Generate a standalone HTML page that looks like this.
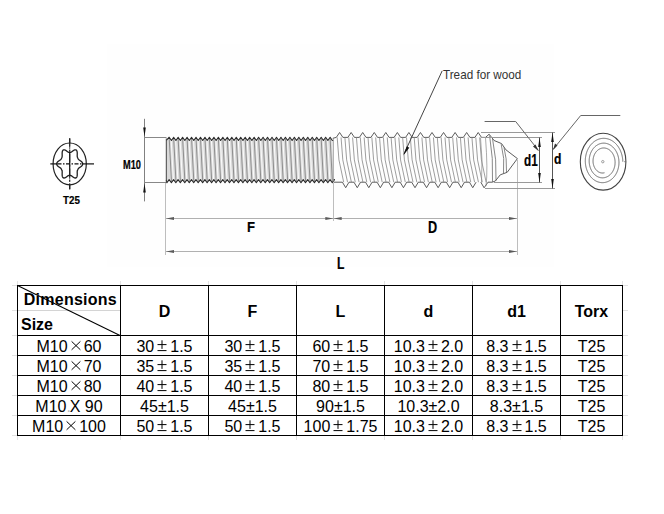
<!DOCTYPE html>
<html><head><meta charset="utf-8"><style>
html,body{margin:0;padding:0;background:#fff;}
body{width:664px;height:514px;position:relative;overflow:hidden;font-family:"Liberation Sans",sans-serif;}
.abs{position:absolute;}
.g{position:absolute;background:#e2e2e2;}
.b{position:absolute;background:#000;}
.c{position:absolute;height:19px;line-height:20px;font-size:16px;text-align:center;white-space:nowrap;color:#000;}
.h{position:absolute;line-height:20px;font-size:16px;font-weight:bold;text-align:center;white-space:nowrap;color:#000;}
.w{display:inline-block;width:16px;height:12px;vertical-align:baseline;position:relative;} .w svg{position:absolute;left:0;top:0;}
.lb{position:absolute;font-weight:bold;line-height:1;white-space:nowrap;transform:scaleX(0.82);transform-origin:0 0;color:#000;-webkit-text-stroke:0.2px #000;}
.tw{position:absolute;font-size:12.4px;line-height:1;white-space:nowrap;transform:scaleX(0.92);transform-origin:0 0;color:#333;}
</style></head><body>
<svg class="abs" width="664" height="514" style="left:0;top:0">
<rect x="107" y="44" width="447" height="223" fill="#fefefe"/>
<ellipse cx="69.7" cy="163.9" rx="16.6" ry="20.9" fill="none" stroke="#222" stroke-width="1.2"/>
<polygon points="69.70,152.38 69.78,152.38 69.86,152.38 69.95,152.38 70.03,152.38 70.11,152.38 70.19,152.38 70.27,152.37 70.36,152.37 70.44,152.36 70.52,152.35 70.61,152.33 70.69,152.31 70.77,152.29 70.86,152.26 70.95,152.23 71.04,152.19 71.13,152.15 71.22,152.11 71.31,152.06 71.40,152.00 71.50,151.94 71.60,151.88 71.70,151.81 71.80,151.74 71.90,151.67 72.01,151.59 72.12,151.51 72.23,151.42 72.34,151.33 72.46,151.24 72.57,151.15 72.69,151.06 72.81,150.97 72.94,150.87 73.06,150.78 73.19,150.69 73.32,150.60 73.45,150.51 73.58,150.42 73.71,150.34 73.84,150.26 73.98,150.19 74.11,150.12 74.25,150.05 74.38,149.99 74.51,149.94 74.65,149.89 74.78,149.86 74.91,149.82 75.04,149.80 75.17,149.78 75.30,149.78 75.42,149.78 75.54,149.79 75.66,149.81 75.78,149.84 75.89,149.88 76.00,149.92 76.10,149.98 76.20,150.04 76.30,150.12 76.39,150.20 76.47,150.29 76.56,150.39 76.64,150.50 76.71,150.62 76.78,150.74 76.84,150.87 76.90,151.01 76.95,151.16 77.00,151.31 77.04,151.46 77.08,151.62 77.12,151.79 77.15,151.96 77.17,152.13 77.19,152.31 77.21,152.48 77.23,152.66 77.24,152.85 77.24,153.03 77.25,153.21 77.25,153.39 77.25,153.58 77.25,153.76 77.25,153.94 77.24,154.11 77.24,154.29 77.23,154.46 77.23,154.63 77.22,154.80 77.22,154.97 77.21,155.13 77.21,155.28 77.21,155.43 77.21,155.58 77.21,155.73 77.21,155.87 77.21,156.00 77.22,156.14 77.23,156.26 77.24,156.39 77.25,156.51 77.27,156.62 77.29,156.73 77.31,156.84 77.33,156.95 77.36,157.05 77.39,157.15 77.42,157.25 77.45,157.34 77.49,157.44 77.52,157.53 77.56,157.62 77.60,157.70 77.64,157.79 77.68,157.88 77.72,157.97 77.76,158.05 77.81,158.14 77.85,158.23 77.89,158.31 77.93,158.40 77.97,158.49 78.01,158.58 78.05,158.66 78.10,158.75 78.14,158.83 78.19,158.92 78.24,159.00 78.29,159.08 78.35,159.16 78.41,159.24 78.47,159.32 78.54,159.40 78.61,159.47 78.68,159.55 78.76,159.62 78.84,159.70 78.92,159.77 79.01,159.84 79.11,159.91 79.20,159.99 79.30,160.06 79.41,160.13 79.52,160.21 79.63,160.28 79.75,160.35 79.86,160.43 79.98,160.51 80.11,160.59 80.23,160.67 80.36,160.75 80.48,160.84 80.61,160.92 80.74,161.01 80.87,161.10 81.00,161.20 81.12,161.29 81.25,161.39 81.37,161.50 81.49,161.60 81.60,161.71 81.72,161.82 81.83,161.94 81.93,162.05 82.03,162.17 82.12,162.29 82.21,162.42 82.29,162.54 82.37,162.67 82.44,162.80 82.50,162.94 82.55,163.07 82.60,163.21 82.63,163.34 82.66,163.48 82.68,163.62 82.70,163.76 82.70,163.90 82.70,164.04 82.68,164.18 82.66,164.32 82.63,164.46 82.60,164.59 82.55,164.73 82.50,164.86 82.44,165.00 82.37,165.13 82.29,165.26 82.21,165.38 82.12,165.51 82.03,165.63 81.93,165.75 81.83,165.86 81.72,165.98 81.60,166.09 81.49,166.20 81.37,166.30 81.25,166.41 81.12,166.51 81.00,166.60 80.87,166.70 80.74,166.79 80.61,166.88 80.48,166.96 80.36,167.05 80.23,167.13 80.11,167.21 79.98,167.29 79.86,167.37 79.75,167.45 79.63,167.52 79.52,167.59 79.41,167.67 79.30,167.74 79.20,167.81 79.11,167.89 79.01,167.96 78.92,168.03 78.84,168.10 78.76,168.18 78.68,168.25 78.61,168.33 78.54,168.40 78.47,168.48 78.41,168.56 78.35,168.64 78.29,168.72 78.24,168.80 78.19,168.88 78.14,168.97 78.10,169.05 78.05,169.14 78.01,169.22 77.97,169.31 77.93,169.40 77.89,169.49 77.85,169.57 77.81,169.66 77.76,169.75 77.72,169.83 77.68,169.92 77.64,170.01 77.60,170.10 77.56,170.18 77.52,170.27 77.49,170.36 77.45,170.46 77.42,170.55 77.39,170.65 77.36,170.75 77.33,170.85 77.31,170.96 77.29,171.07 77.27,171.18 77.25,171.29 77.24,171.41 77.23,171.54 77.22,171.66 77.21,171.80 77.21,171.93 77.21,172.07 77.21,172.22 77.21,172.37 77.21,172.52 77.21,172.67 77.22,172.83 77.22,173.00 77.23,173.17 77.23,173.34 77.24,173.51 77.24,173.69 77.25,173.86 77.25,174.04 77.25,174.22 77.25,174.41 77.25,174.59 77.24,174.77 77.24,174.95 77.23,175.14 77.21,175.32 77.19,175.49 77.17,175.67 77.15,175.84 77.12,176.01 77.08,176.18 77.04,176.34 77.00,176.49 76.95,176.64 76.90,176.79 76.84,176.93 76.78,177.06 76.71,177.18 76.64,177.30 76.56,177.41 76.47,177.51 76.39,177.60 76.30,177.68 76.20,177.76 76.10,177.82 76.00,177.88 75.89,177.92 75.78,177.96 75.66,177.99 75.54,178.01 75.42,178.02 75.30,178.02 75.17,178.02 75.04,178.00 74.91,177.98 74.78,177.94 74.65,177.91 74.51,177.86 74.38,177.81 74.25,177.75 74.11,177.68 73.98,177.61 73.84,177.54 73.71,177.46 73.58,177.38 73.45,177.29 73.32,177.20 73.19,177.11 73.06,177.02 72.94,176.93 72.81,176.83 72.69,176.74 72.57,176.65 72.46,176.56 72.34,176.47 72.23,176.38 72.12,176.29 72.01,176.21 71.90,176.13 71.80,176.06 71.70,175.99 71.60,175.92 71.50,175.86 71.40,175.80 71.31,175.74 71.22,175.69 71.13,175.65 71.04,175.61 70.95,175.57 70.86,175.54 70.77,175.51 70.69,175.49 70.61,175.47 70.52,175.45 70.44,175.44 70.36,175.43 70.27,175.43 70.19,175.42 70.11,175.42 70.03,175.42 69.95,175.42 69.86,175.42 69.78,175.42 69.70,175.42 69.62,175.42 69.54,175.42 69.45,175.42 69.37,175.42 69.29,175.42 69.21,175.42 69.13,175.43 69.04,175.43 68.96,175.44 68.88,175.45 68.79,175.47 68.71,175.49 68.63,175.51 68.54,175.54 68.45,175.57 68.36,175.61 68.27,175.65 68.18,175.69 68.09,175.74 68.00,175.80 67.90,175.86 67.80,175.92 67.70,175.99 67.60,176.06 67.50,176.13 67.39,176.21 67.28,176.29 67.17,176.38 67.06,176.47 66.94,176.56 66.83,176.65 66.71,176.74 66.59,176.83 66.46,176.93 66.34,177.02 66.21,177.11 66.08,177.20 65.95,177.29 65.82,177.38 65.69,177.46 65.56,177.54 65.42,177.61 65.29,177.68 65.15,177.75 65.02,177.81 64.89,177.86 64.75,177.91 64.62,177.94 64.49,177.98 64.36,178.00 64.23,178.02 64.10,178.02 63.98,178.02 63.86,178.01 63.74,177.99 63.62,177.96 63.51,177.92 63.40,177.88 63.30,177.82 63.20,177.76 63.10,177.68 63.01,177.60 62.93,177.51 62.84,177.41 62.76,177.30 62.69,177.18 62.62,177.06 62.56,176.93 62.50,176.79 62.45,176.64 62.40,176.49 62.36,176.34 62.32,176.18 62.28,176.01 62.25,175.84 62.23,175.67 62.21,175.49 62.19,175.32 62.17,175.14 62.16,174.95 62.16,174.77 62.15,174.59 62.15,174.41 62.15,174.22 62.15,174.04 62.15,173.86 62.16,173.69 62.16,173.51 62.17,173.34 62.17,173.17 62.18,173.00 62.18,172.83 62.19,172.67 62.19,172.52 62.19,172.37 62.19,172.22 62.19,172.07 62.19,171.93 62.19,171.80 62.18,171.66 62.17,171.54 62.16,171.41 62.15,171.29 62.13,171.18 62.11,171.07 62.09,170.96 62.07,170.85 62.04,170.75 62.01,170.65 61.98,170.55 61.95,170.46 61.91,170.36 61.88,170.27 61.84,170.18 61.80,170.10 61.76,170.01 61.72,169.92 61.68,169.83 61.64,169.75 61.59,169.66 61.55,169.57 61.51,169.49 61.47,169.40 61.43,169.31 61.39,169.22 61.35,169.14 61.30,169.05 61.26,168.97 61.21,168.88 61.16,168.80 61.11,168.72 61.05,168.64 60.99,168.56 60.93,168.48 60.86,168.40 60.79,168.33 60.72,168.25 60.64,168.18 60.56,168.10 60.48,168.03 60.39,167.96 60.29,167.89 60.20,167.81 60.10,167.74 59.99,167.67 59.88,167.59 59.77,167.52 59.65,167.45 59.54,167.37 59.42,167.29 59.29,167.21 59.17,167.13 59.04,167.05 58.92,166.96 58.79,166.88 58.66,166.79 58.53,166.70 58.40,166.60 58.28,166.51 58.15,166.41 58.03,166.30 57.91,166.20 57.80,166.09 57.68,165.98 57.57,165.86 57.47,165.75 57.37,165.63 57.28,165.51 57.19,165.38 57.11,165.26 57.03,165.13 56.96,165.00 56.90,164.86 56.85,164.73 56.80,164.59 56.77,164.46 56.74,164.32 56.72,164.18 56.70,164.04 56.70,163.90 56.70,163.76 56.72,163.62 56.74,163.48 56.77,163.34 56.80,163.21 56.85,163.07 56.90,162.94 56.96,162.80 57.03,162.67 57.11,162.54 57.19,162.42 57.28,162.29 57.37,162.17 57.47,162.05 57.57,161.94 57.68,161.82 57.80,161.71 57.91,161.60 58.03,161.50 58.15,161.39 58.28,161.29 58.40,161.20 58.53,161.10 58.66,161.01 58.79,160.92 58.92,160.84 59.04,160.75 59.17,160.67 59.29,160.59 59.42,160.51 59.54,160.43 59.65,160.35 59.77,160.28 59.88,160.21 59.99,160.13 60.10,160.06 60.20,159.99 60.29,159.91 60.39,159.84 60.48,159.77 60.56,159.70 60.64,159.62 60.72,159.55 60.79,159.47 60.86,159.40 60.93,159.32 60.99,159.24 61.05,159.16 61.11,159.08 61.16,159.00 61.21,158.92 61.26,158.83 61.30,158.75 61.35,158.66 61.39,158.58 61.43,158.49 61.47,158.40 61.51,158.31 61.55,158.23 61.59,158.14 61.64,158.05 61.68,157.97 61.72,157.88 61.76,157.79 61.80,157.70 61.84,157.62 61.88,157.53 61.91,157.44 61.95,157.34 61.98,157.25 62.01,157.15 62.04,157.05 62.07,156.95 62.09,156.84 62.11,156.73 62.13,156.62 62.15,156.51 62.16,156.39 62.17,156.26 62.18,156.14 62.19,156.00 62.19,155.87 62.19,155.73 62.19,155.58 62.19,155.43 62.19,155.28 62.19,155.13 62.18,154.97 62.18,154.80 62.17,154.63 62.17,154.46 62.16,154.29 62.16,154.11 62.15,153.94 62.15,153.76 62.15,153.58 62.15,153.39 62.15,153.21 62.16,153.03 62.16,152.85 62.17,152.66 62.19,152.48 62.21,152.31 62.23,152.13 62.25,151.96 62.28,151.79 62.32,151.62 62.36,151.46 62.40,151.31 62.45,151.16 62.50,151.01 62.56,150.87 62.62,150.74 62.69,150.62 62.76,150.50 62.84,150.39 62.93,150.29 63.01,150.20 63.10,150.12 63.20,150.04 63.30,149.98 63.40,149.92 63.51,149.88 63.62,149.84 63.74,149.81 63.86,149.79 63.98,149.78 64.10,149.78 64.23,149.78 64.36,149.80 64.49,149.82 64.62,149.86 64.75,149.89 64.89,149.94 65.02,149.99 65.15,150.05 65.29,150.12 65.42,150.19 65.56,150.26 65.69,150.34 65.82,150.42 65.95,150.51 66.08,150.60 66.21,150.69 66.34,150.78 66.46,150.87 66.59,150.97 66.71,151.06 66.83,151.15 66.94,151.24 67.06,151.33 67.17,151.42 67.28,151.51 67.39,151.59 67.50,151.67 67.60,151.74 67.70,151.81 67.80,151.88 67.90,151.94 68.00,152.00 68.09,152.06 68.18,152.11 68.27,152.15 68.36,152.19 68.45,152.23 68.54,152.26 68.63,152.29 68.71,152.31 68.79,152.33 68.88,152.35 68.96,152.36 69.04,152.37 69.13,152.37 69.21,152.38 69.29,152.38 69.37,152.38 69.45,152.38 69.54,152.38 69.62,152.38 69.70,152.38" fill="none" stroke="#222" stroke-width="1.3"/>
<line x1="50.3" y1="163.9" x2="57.5" y2="163.9" stroke="#111" stroke-width="1.2"/>
<line x1="82" y1="163.9" x2="94" y2="163.9" stroke="#111" stroke-width="1.2"/>
<line x1="57.5" y1="163.9" x2="82" y2="163.9" stroke="#111" stroke-width="1.1" stroke-dasharray="4,1.5,1.5,1.5"/>
<line x1="69.7" y1="138.3" x2="69.7" y2="143" stroke="#111" stroke-width="1.2"/>
<line x1="69.7" y1="185" x2="69.7" y2="189.5" stroke="#111" stroke-width="1.2"/>
<line x1="69.7" y1="143" x2="69.7" y2="152" stroke="#444" stroke-width="0.9" stroke-dasharray="3,1.5,1.5,1.5"/>
<line x1="69.7" y1="176" x2="69.7" y2="185" stroke="#444" stroke-width="0.9" stroke-dasharray="3,1.5,1.5,1.5"/>
<line x1="69.7" y1="152" x2="69.7" y2="176" stroke="#111" stroke-width="1.2"/>
<line x1="69.7" y1="138.5" x2="69.7" y2="189" stroke="#222" stroke-width="1.1" stroke-dasharray="9,2,2,2"/>
<line x1="144.5" y1="118.8" x2="144.5" y2="201.4" stroke="#808080" stroke-width="1"/>
<line x1="144.5" y1="137.5" x2="166.5" y2="137.5" stroke="#888" stroke-width="1"/>
<line x1="144.5" y1="182.5" x2="166.5" y2="182.5" stroke="#888" stroke-width="1"/>
<polygon points="144.5,136.8 143.2,127.5 145.8,127.5" fill="#111"/>
<polygon points="144.5,183.2 143.2,192.5 145.8,192.5" fill="#111"/>
<polygon points="166.30,140.40 169.20,137.20 171.44,140.50 173.67,137.20 175.91,140.50 178.14,137.20 180.38,140.50 182.61,137.20 184.84,140.50 187.08,137.20 189.31,140.50 191.55,137.20 193.78,140.50 196.02,137.20 198.25,140.50 200.49,137.20 202.72,140.50 204.96,137.20 207.19,140.50 209.43,137.20 211.66,140.50 213.90,137.20 216.13,140.50 218.37,137.20 220.60,140.50 222.84,137.20 225.07,140.50 227.31,137.20 229.55,140.50 231.78,137.20 234.01,140.50 236.25,137.20 238.49,140.50 240.72,137.20 242.95,140.50 245.19,137.20 247.43,140.50 249.66,137.20 251.89,140.50 254.13,137.20 256.37,140.50 258.60,137.20 260.83,140.50 263.07,137.20 265.31,140.50 267.54,137.20 269.77,140.50 272.01,137.20 274.25,140.50 276.48,137.20 278.72,140.50 280.95,137.20 283.19,140.50 285.42,137.20 287.65,140.50 289.89,137.20 292.12,140.50 294.36,137.20 296.60,140.50 298.83,137.20 301.06,140.50 303.30,137.20 305.53,140.50 307.77,137.20 310.00,140.50 312.24,137.20 314.48,140.50 316.71,137.20 318.94,140.50 321.18,137.20 323.41,140.50 325.65,137.20 327.88,140.50 330.12,137.20 332.36,140.50 333.30,140.40 333.30,179.80 334.52,179.60 332.29,182.80 330.06,179.60 327.82,182.80 325.59,179.60 323.35,182.80 321.12,179.60 318.88,182.80 316.64,179.60 314.41,182.80 312.18,179.60 309.94,182.80 307.71,179.60 305.47,182.80 303.24,179.60 301.00,182.80 298.76,179.60 296.53,182.80 294.30,179.60 292.06,182.80 289.83,179.60 287.59,182.80 285.36,179.60 283.12,182.80 280.88,179.60 278.65,182.80 276.42,179.60 274.18,182.80 271.94,179.60 269.71,182.80 267.48,179.60 265.24,182.80 263.00,179.60 260.77,182.80 258.54,179.60 256.30,182.80 254.06,179.60 251.83,182.80 249.60,179.60 247.36,182.80 245.12,179.60 242.89,182.80 240.66,179.60 238.42,182.80 236.19,179.60 233.95,182.80 231.72,179.60 229.48,182.80 227.25,179.60 225.01,182.80 222.78,179.60 220.54,182.80 218.31,179.60 216.07,182.80 213.84,179.60 211.60,182.80 209.37,179.60 207.13,182.80 204.90,179.60 202.66,182.80 200.43,179.60 198.19,182.80 195.96,179.60 193.72,182.80 191.49,179.60 189.25,182.80 187.02,179.60 184.78,182.80 182.55,179.60 180.31,182.80 178.08,179.60 175.84,182.80 173.61,179.60 171.37,182.80 169.14,179.60 166.90,182.80 166.30,179.80" fill="#d9d9d9"/>
<line x1="169.20" y1="138.2" x2="171.50" y2="182" stroke="#808080" stroke-width="0.85"/>
<line x1="171.20" y1="140.6" x2="173.40" y2="179.6" stroke="#fbfbfb" stroke-width="1.0"/>
<line x1="173.67" y1="138.2" x2="175.97" y2="182" stroke="#808080" stroke-width="0.85"/>
<line x1="175.67" y1="140.6" x2="177.87" y2="179.6" stroke="#fbfbfb" stroke-width="1.0"/>
<line x1="178.14" y1="138.2" x2="180.44" y2="182" stroke="#808080" stroke-width="0.85"/>
<line x1="180.14" y1="140.6" x2="182.34" y2="179.6" stroke="#fbfbfb" stroke-width="1.0"/>
<line x1="182.61" y1="138.2" x2="184.91" y2="182" stroke="#808080" stroke-width="0.85"/>
<line x1="184.61" y1="140.6" x2="186.81" y2="179.6" stroke="#fbfbfb" stroke-width="1.0"/>
<line x1="187.08" y1="138.2" x2="189.38" y2="182" stroke="#808080" stroke-width="0.85"/>
<line x1="189.08" y1="140.6" x2="191.28" y2="179.6" stroke="#fbfbfb" stroke-width="1.0"/>
<line x1="191.55" y1="138.2" x2="193.85" y2="182" stroke="#808080" stroke-width="0.85"/>
<line x1="193.55" y1="140.6" x2="195.75" y2="179.6" stroke="#fbfbfb" stroke-width="1.0"/>
<line x1="196.02" y1="138.2" x2="198.32" y2="182" stroke="#808080" stroke-width="0.85"/>
<line x1="198.02" y1="140.6" x2="200.22" y2="179.6" stroke="#fbfbfb" stroke-width="1.0"/>
<line x1="200.49" y1="138.2" x2="202.79" y2="182" stroke="#808080" stroke-width="0.85"/>
<line x1="202.49" y1="140.6" x2="204.69" y2="179.6" stroke="#fbfbfb" stroke-width="1.0"/>
<line x1="204.96" y1="138.2" x2="207.26" y2="182" stroke="#808080" stroke-width="0.85"/>
<line x1="206.96" y1="140.6" x2="209.16" y2="179.6" stroke="#fbfbfb" stroke-width="1.0"/>
<line x1="209.43" y1="138.2" x2="211.73" y2="182" stroke="#808080" stroke-width="0.85"/>
<line x1="211.43" y1="140.6" x2="213.63" y2="179.6" stroke="#fbfbfb" stroke-width="1.0"/>
<line x1="213.90" y1="138.2" x2="216.20" y2="182" stroke="#808080" stroke-width="0.85"/>
<line x1="215.90" y1="140.6" x2="218.10" y2="179.6" stroke="#fbfbfb" stroke-width="1.0"/>
<line x1="218.37" y1="138.2" x2="220.67" y2="182" stroke="#808080" stroke-width="0.85"/>
<line x1="220.37" y1="140.6" x2="222.57" y2="179.6" stroke="#fbfbfb" stroke-width="1.0"/>
<line x1="222.84" y1="138.2" x2="225.14" y2="182" stroke="#808080" stroke-width="0.85"/>
<line x1="224.84" y1="140.6" x2="227.04" y2="179.6" stroke="#fbfbfb" stroke-width="1.0"/>
<line x1="227.31" y1="138.2" x2="229.61" y2="182" stroke="#808080" stroke-width="0.85"/>
<line x1="229.31" y1="140.6" x2="231.51" y2="179.6" stroke="#fbfbfb" stroke-width="1.0"/>
<line x1="231.78" y1="138.2" x2="234.08" y2="182" stroke="#808080" stroke-width="0.85"/>
<line x1="233.78" y1="140.6" x2="235.98" y2="179.6" stroke="#fbfbfb" stroke-width="1.0"/>
<line x1="236.25" y1="138.2" x2="238.55" y2="182" stroke="#808080" stroke-width="0.85"/>
<line x1="238.25" y1="140.6" x2="240.45" y2="179.6" stroke="#fbfbfb" stroke-width="1.0"/>
<line x1="240.72" y1="138.2" x2="243.02" y2="182" stroke="#808080" stroke-width="0.85"/>
<line x1="242.72" y1="140.6" x2="244.92" y2="179.6" stroke="#fbfbfb" stroke-width="1.0"/>
<line x1="245.19" y1="138.2" x2="247.49" y2="182" stroke="#808080" stroke-width="0.85"/>
<line x1="247.19" y1="140.6" x2="249.39" y2="179.6" stroke="#fbfbfb" stroke-width="1.0"/>
<line x1="249.66" y1="138.2" x2="251.96" y2="182" stroke="#808080" stroke-width="0.85"/>
<line x1="251.66" y1="140.6" x2="253.86" y2="179.6" stroke="#fbfbfb" stroke-width="1.0"/>
<line x1="254.13" y1="138.2" x2="256.43" y2="182" stroke="#808080" stroke-width="0.85"/>
<line x1="256.13" y1="140.6" x2="258.33" y2="179.6" stroke="#fbfbfb" stroke-width="1.0"/>
<line x1="258.60" y1="138.2" x2="260.90" y2="182" stroke="#808080" stroke-width="0.85"/>
<line x1="260.60" y1="140.6" x2="262.80" y2="179.6" stroke="#fbfbfb" stroke-width="1.0"/>
<line x1="263.07" y1="138.2" x2="265.37" y2="182" stroke="#808080" stroke-width="0.85"/>
<line x1="265.07" y1="140.6" x2="267.27" y2="179.6" stroke="#fbfbfb" stroke-width="1.0"/>
<line x1="267.54" y1="138.2" x2="269.84" y2="182" stroke="#808080" stroke-width="0.85"/>
<line x1="269.54" y1="140.6" x2="271.74" y2="179.6" stroke="#fbfbfb" stroke-width="1.0"/>
<line x1="272.01" y1="138.2" x2="274.31" y2="182" stroke="#808080" stroke-width="0.85"/>
<line x1="274.01" y1="140.6" x2="276.21" y2="179.6" stroke="#fbfbfb" stroke-width="1.0"/>
<line x1="276.48" y1="138.2" x2="278.78" y2="182" stroke="#808080" stroke-width="0.85"/>
<line x1="278.48" y1="140.6" x2="280.68" y2="179.6" stroke="#fbfbfb" stroke-width="1.0"/>
<line x1="280.95" y1="138.2" x2="283.25" y2="182" stroke="#808080" stroke-width="0.85"/>
<line x1="282.95" y1="140.6" x2="285.15" y2="179.6" stroke="#fbfbfb" stroke-width="1.0"/>
<line x1="285.42" y1="138.2" x2="287.72" y2="182" stroke="#808080" stroke-width="0.85"/>
<line x1="287.42" y1="140.6" x2="289.62" y2="179.6" stroke="#fbfbfb" stroke-width="1.0"/>
<line x1="289.89" y1="138.2" x2="292.19" y2="182" stroke="#808080" stroke-width="0.85"/>
<line x1="291.89" y1="140.6" x2="294.09" y2="179.6" stroke="#fbfbfb" stroke-width="1.0"/>
<line x1="294.36" y1="138.2" x2="296.66" y2="182" stroke="#808080" stroke-width="0.85"/>
<line x1="296.36" y1="140.6" x2="298.56" y2="179.6" stroke="#fbfbfb" stroke-width="1.0"/>
<line x1="298.83" y1="138.2" x2="301.13" y2="182" stroke="#808080" stroke-width="0.85"/>
<line x1="300.83" y1="140.6" x2="303.03" y2="179.6" stroke="#fbfbfb" stroke-width="1.0"/>
<line x1="303.30" y1="138.2" x2="305.60" y2="182" stroke="#808080" stroke-width="0.85"/>
<line x1="305.30" y1="140.6" x2="307.50" y2="179.6" stroke="#fbfbfb" stroke-width="1.0"/>
<line x1="307.77" y1="138.2" x2="310.07" y2="182" stroke="#808080" stroke-width="0.85"/>
<line x1="309.77" y1="140.6" x2="311.97" y2="179.6" stroke="#fbfbfb" stroke-width="1.0"/>
<line x1="312.24" y1="138.2" x2="314.54" y2="182" stroke="#808080" stroke-width="0.85"/>
<line x1="314.24" y1="140.6" x2="316.44" y2="179.6" stroke="#fbfbfb" stroke-width="1.0"/>
<line x1="316.71" y1="138.2" x2="319.01" y2="182" stroke="#808080" stroke-width="0.85"/>
<line x1="318.71" y1="140.6" x2="320.91" y2="179.6" stroke="#fbfbfb" stroke-width="1.0"/>
<line x1="321.18" y1="138.2" x2="323.48" y2="182" stroke="#808080" stroke-width="0.85"/>
<line x1="323.18" y1="140.6" x2="325.38" y2="179.6" stroke="#fbfbfb" stroke-width="1.0"/>
<line x1="325.65" y1="138.2" x2="327.95" y2="182" stroke="#808080" stroke-width="0.85"/>
<line x1="327.65" y1="140.6" x2="329.85" y2="179.6" stroke="#fbfbfb" stroke-width="1.0"/>
<line x1="330.12" y1="138.2" x2="332.42" y2="182" stroke="#808080" stroke-width="0.85"/>
<line x1="332.12" y1="140.6" x2="334.32" y2="179.6" stroke="#fbfbfb" stroke-width="1.0"/>
<polyline points="166.30,140.40 169.20,137.20 171.44,140.50 173.67,137.20 175.91,140.50 178.14,137.20 180.38,140.50 182.61,137.20 184.84,140.50 187.08,137.20 189.31,140.50 191.55,137.20 193.78,140.50 196.02,137.20 198.25,140.50 200.49,137.20 202.72,140.50 204.96,137.20 207.19,140.50 209.43,137.20 211.66,140.50 213.90,137.20 216.13,140.50 218.37,137.20 220.60,140.50 222.84,137.20 225.07,140.50 227.31,137.20 229.55,140.50 231.78,137.20 234.01,140.50 236.25,137.20 238.49,140.50 240.72,137.20 242.95,140.50 245.19,137.20 247.43,140.50 249.66,137.20 251.89,140.50 254.13,137.20 256.37,140.50 258.60,137.20 260.83,140.50 263.07,137.20 265.31,140.50 267.54,137.20 269.77,140.50 272.01,137.20 274.25,140.50 276.48,137.20 278.72,140.50 280.95,137.20 283.19,140.50 285.42,137.20 287.65,140.50 289.89,137.20 292.12,140.50 294.36,137.20 296.60,140.50 298.83,137.20 301.06,140.50 303.30,137.20 305.53,140.50 307.77,137.20 310.00,140.50 312.24,137.20 314.48,140.50 316.71,137.20 318.94,140.50 321.18,137.20 323.41,140.50 325.65,137.20 327.88,140.50 330.12,137.20 332.36,140.50 333.30,140.40" fill="none" stroke="#2a2a2a" stroke-width="1.05" stroke-linejoin="round"/>
<polyline points="166.30,179.80 166.90,182.80 169.14,179.60 171.37,182.80 173.61,179.60 175.84,182.80 178.08,179.60 180.31,182.80 182.55,179.60 184.78,182.80 187.02,179.60 189.25,182.80 191.49,179.60 193.72,182.80 195.96,179.60 198.19,182.80 200.43,179.60 202.66,182.80 204.90,179.60 207.13,182.80 209.37,179.60 211.60,182.80 213.84,179.60 216.07,182.80 218.31,179.60 220.54,182.80 222.78,179.60 225.01,182.80 227.25,179.60 229.48,182.80 231.72,179.60 233.95,182.80 236.19,179.60 238.42,182.80 240.66,179.60 242.89,182.80 245.12,179.60 247.36,182.80 249.60,179.60 251.83,182.80 254.06,179.60 256.30,182.80 258.54,179.60 260.77,182.80 263.00,179.60 265.24,182.80 267.48,179.60 269.71,182.80 271.94,179.60 274.18,182.80 276.42,179.60 278.65,182.80 280.88,179.60 283.12,182.80 285.36,179.60 287.59,182.80 289.83,179.60 292.06,182.80 294.30,179.60 296.53,182.80 298.76,179.60 301.00,182.80 303.24,179.60 305.47,182.80 307.71,179.60 309.94,182.80 312.18,179.60 314.41,182.80 316.64,179.60 318.88,182.80 321.12,179.60 323.35,182.80 325.59,179.60 327.82,182.80 330.06,179.60 332.29,182.80 334.52,179.60 333.30,179.80" fill="none" stroke="#2a2a2a" stroke-width="1.05" stroke-linejoin="round"/>
<line x1="166.3" y1="138.5" x2="166.3" y2="182.5" stroke="#444" stroke-width="1"/>
<line x1="333.3" y1="138.5" x2="333.3" y2="181.5" stroke="#999" stroke-width="0.9"/>
<path d="M332.8,138.3 L336.30,137.4 L339.60,132.5 L342.90,137.4 L347.85,137.4 L351.15,132.5 L354.45,137.4 L359.40,137.4 L362.70,132.5 L366.00,137.4 L370.95,137.4 L374.25,132.5 L377.55,137.4 L382.50,137.4 L385.80,132.5 L389.10,137.4 L394.05,137.4 L397.35,132.5 L400.65,137.4 L405.60,137.4 L408.90,132.5 L412.20,137.4 L417.15,137.4 L420.45,132.5 L423.75,137.4 L428.70,137.4 L432.00,132.5 L435.30,137.4 L440.25,137.4 L443.55,132.5 L446.85,137.4 L451.80,137.4 L455.10,132.5 L458.40,137.4 L463.35,137.4 L466.65,132.5 L469.95,137.4 L474.90,137.4 L478.20,132.5 L481.50,137.4 L485.5,137.4 L489.1,134.2 L494.1,140.5 L501.6,143.6 L505.9,149.8 L517.4,158.6 L507.2,172.3 L500.3,174.8 L495.3,181 L492.2,182.2 L488,182.2 L484.1,187.8 L480.8,182.2" fill="none" stroke="#4a4a4a" stroke-width="0.9" stroke-linejoin="round"/>
<path d="M333.8,182.2 L342.40,182.2 L345.70,187.7 L349.00,182.2 L353.95,182.2 L357.25,187.7 L360.55,182.2 L365.50,182.2 L368.80,187.7 L372.10,182.2 L377.05,182.2 L380.35,187.7 L383.65,182.2 L388.60,182.2 L391.90,187.7 L395.20,182.2 L400.15,182.2 L403.45,187.7 L406.75,182.2 L411.70,182.2 L415.00,187.7 L418.30,182.2 L423.25,182.2 L426.55,187.7 L429.85,182.2 L434.80,182.2 L438.10,187.7 L441.40,182.2 L446.35,182.2 L449.65,187.7 L452.95,182.2 L457.90,182.2 L461.20,187.7 L464.50,182.2 L469.45,182.2 L472.75,187.7 L476.05,182.2 " fill="none" stroke="#4a4a4a" stroke-width="0.9" stroke-linejoin="round"/>
<path d="M337.20,137.4 Q337.45,160 343.70,182.2" fill="none" stroke="#858585" stroke-width="0.8"/>
<path d="M341.05,137.4 Q341.30,160 347.55,182.2" fill="none" stroke="#858585" stroke-width="0.8"/>
<path d="M344.90,137.4 Q345.15,160 351.40,182.2" fill="none" stroke="#858585" stroke-width="0.8"/>
<path d="M348.75,137.4 Q349.00,160 355.25,182.2" fill="none" stroke="#858585" stroke-width="0.8"/>
<path d="M352.60,137.4 Q352.85,160 359.10,182.2" fill="none" stroke="#858585" stroke-width="0.8"/>
<path d="M356.45,137.4 Q356.70,160 362.95,182.2" fill="none" stroke="#858585" stroke-width="0.8"/>
<path d="M360.30,137.4 Q360.55,160 366.80,182.2" fill="none" stroke="#858585" stroke-width="0.8"/>
<path d="M364.15,137.4 Q364.40,160 370.65,182.2" fill="none" stroke="#858585" stroke-width="0.8"/>
<path d="M368.00,137.4 Q368.25,160 374.50,182.2" fill="none" stroke="#858585" stroke-width="0.8"/>
<path d="M371.85,137.4 Q372.10,160 378.35,182.2" fill="none" stroke="#858585" stroke-width="0.8"/>
<path d="M375.70,137.4 Q375.95,160 382.20,182.2" fill="none" stroke="#858585" stroke-width="0.8"/>
<path d="M379.55,137.4 Q379.80,160 386.05,182.2" fill="none" stroke="#858585" stroke-width="0.8"/>
<path d="M383.40,137.4 Q383.65,160 389.90,182.2" fill="none" stroke="#858585" stroke-width="0.8"/>
<path d="M387.25,137.4 Q387.50,160 393.75,182.2" fill="none" stroke="#858585" stroke-width="0.8"/>
<path d="M391.10,137.4 Q391.35,160 397.60,182.2" fill="none" stroke="#858585" stroke-width="0.8"/>
<path d="M394.95,137.4 Q395.20,160 401.45,182.2" fill="none" stroke="#858585" stroke-width="0.8"/>
<path d="M398.80,137.4 Q399.05,160 405.30,182.2" fill="none" stroke="#858585" stroke-width="0.8"/>
<path d="M402.65,137.4 Q402.90,160 409.15,182.2" fill="none" stroke="#858585" stroke-width="0.8"/>
<path d="M406.50,137.4 Q406.75,160 413.00,182.2" fill="none" stroke="#858585" stroke-width="0.8"/>
<path d="M410.35,137.4 Q410.60,160 416.85,182.2" fill="none" stroke="#858585" stroke-width="0.8"/>
<path d="M414.20,137.4 Q414.45,160 420.70,182.2" fill="none" stroke="#858585" stroke-width="0.8"/>
<path d="M418.05,137.4 Q418.30,160 424.55,182.2" fill="none" stroke="#858585" stroke-width="0.8"/>
<path d="M421.90,137.4 Q422.15,160 428.40,182.2" fill="none" stroke="#858585" stroke-width="0.8"/>
<path d="M425.75,137.4 Q426.00,160 432.25,182.2" fill="none" stroke="#858585" stroke-width="0.8"/>
<path d="M429.60,137.4 Q429.85,160 436.10,182.2" fill="none" stroke="#858585" stroke-width="0.8"/>
<path d="M433.45,137.4 Q433.70,160 439.95,182.2" fill="none" stroke="#858585" stroke-width="0.8"/>
<path d="M437.30,137.4 Q437.55,160 443.80,182.2" fill="none" stroke="#858585" stroke-width="0.8"/>
<path d="M441.15,137.4 Q441.40,160 447.65,182.2" fill="none" stroke="#858585" stroke-width="0.8"/>
<path d="M445.00,137.4 Q445.25,160 451.50,182.2" fill="none" stroke="#858585" stroke-width="0.8"/>
<path d="M448.85,137.4 Q449.10,160 455.35,182.2" fill="none" stroke="#858585" stroke-width="0.8"/>
<path d="M452.70,137.4 Q452.95,160 459.20,182.2" fill="none" stroke="#858585" stroke-width="0.8"/>
<path d="M456.55,137.4 Q456.80,160 463.05,182.2" fill="none" stroke="#858585" stroke-width="0.8"/>
<path d="M460.40,137.4 Q460.65,160 466.90,182.2" fill="none" stroke="#858585" stroke-width="0.8"/>
<path d="M464.25,137.4 Q464.50,160 470.75,182.2" fill="none" stroke="#858585" stroke-width="0.8"/>
<path d="M468.10,137.4 Q468.35,160 474.60,182.2" fill="none" stroke="#858585" stroke-width="0.8"/>
<path d="M471.95,137.4 Q472.20,160 478.45,182.2" fill="none" stroke="#858585" stroke-width="0.8"/>
<path d="M475.80,137.4 Q476.05,160 482.30,182.2" fill="none" stroke="#858585" stroke-width="0.8"/>
<path d="M479.65,137.4 Q479.90,160 486.15,182.2" fill="none" stroke="#858585" stroke-width="0.8"/>
<path d="M489.6,135.5 Q493.5,158 492.5,182 M492.5,138.5 Q497,160 496,180.5 M501.2,144.2 Q505,158 503.5,173.5 M504,147.5 Q507,158 506.5,172" fill="none" stroke="#6a6a6a" stroke-width="0.8"/>
<path d="M486,186 Q488,170 485.5,137.6 M481.5,182.5 Q483,160 480.5,137.6" fill="none" stroke="#888" stroke-width="0.7"/>
<line x1="165.5" y1="183" x2="165.5" y2="255" stroke="#bdbdbd" stroke-width="1"/>
<line x1="333.5" y1="183" x2="333.5" y2="221" stroke="#bdbdbd" stroke-width="1"/>
<line x1="517.5" y1="160" x2="517.5" y2="255" stroke="#bdbdbd" stroke-width="1"/>
<line x1="166" y1="218.5" x2="517" y2="218.5" stroke="#b0b0b0" stroke-width="1"/>
<line x1="166" y1="251.5" x2="517" y2="251.5" stroke="#b0b0b0" stroke-width="1"/>
<polygon points="166,218.5 174,216.9 174,220.1" fill="#5a5a5a"/>
<polygon points="333.3,218.5 325.3,216.9 325.3,220.1" fill="#5a5a5a"/>
<polygon points="333.7,218.5 341.7,216.9 341.7,220.1" fill="#5a5a5a"/>
<polygon points="517,218.5 509,216.9 509,220.1" fill="#5a5a5a"/>
<polygon points="166,251.5 174,249.9 174,253.1" fill="#5a5a5a"/>
<polygon points="517,251.5 509,249.9 509,253.1" fill="#5a5a5a"/>
<line x1="481" y1="132.5" x2="555" y2="132.5" stroke="#999" stroke-width="1"/>
<line x1="481" y1="137.5" x2="542" y2="137.5" stroke="#999" stroke-width="1"/>
<line x1="494" y1="182.5" x2="542" y2="182.5" stroke="#999" stroke-width="1"/>
<line x1="485" y1="188.5" x2="555" y2="188.5" stroke="#999" stroke-width="1"/>
<line x1="539.5" y1="137.5" x2="539.5" y2="182.5" stroke="#555" stroke-width="1"/>
<polygon points="539.5,137.6 538.2,147 540.8,147" fill="#111"/>
<polygon points="539.5,182.4 538.2,173 540.8,173" fill="#111"/>
<line x1="552.5" y1="132.5" x2="552.5" y2="188.5" stroke="#555" stroke-width="1"/>
<polygon points="552.5,132.6 551.2,142 553.8,142" fill="#111"/>
<polygon points="552.5,188.4 551.2,179 553.8,179" fill="#111"/>
<polyline points="484.6,121.5 515.7,121.5 538.5,150.5" fill="none" stroke="#666" stroke-width="1"/>
<polygon points="538.5,151 533,146.5 535.5,144.5" fill="#333"/>
<polyline points="553,149.5 580.7,115.5 620.3,115.5" fill="none" stroke="#666" stroke-width="1"/>
<polygon points="553,150 555,143.5 557.5,145.5" fill="#333"/>
<line x1="442.2" y1="70.8" x2="404" y2="154" stroke="#444" stroke-width="1"/>
<polygon points="403.3,155.6 409.3,147.8 406.7,146.2" fill="#111"/>
<ellipse cx="603.1" cy="161.7" rx="22.8" ry="28.4" fill="none" stroke="#444" stroke-width="1.1"/>
<polyline points="622.82,161.70 622.81,161.34 622.80,160.99 622.78,160.63 622.75,160.28 622.73,159.92 622.69,159.57 622.66,159.21 622.62,158.86 622.57,158.51 622.53,158.16 622.47,157.81 622.42,157.46 622.36,157.11 622.29,156.77 622.22,156.42 622.15,156.08 622.08,155.74 622.00,155.40 621.91,155.06 621.82,154.73 621.73,154.39 621.64,154.06 621.54,153.73 621.43,153.40 621.33,153.07 621.21,152.75 621.10,152.42 620.98,152.10 620.86,151.78 620.73,151.47 620.60,151.16 620.47,150.85 620.34,150.54 620.20,150.23 620.05,149.93 619.91,149.63 619.76,149.33 619.60,149.04 619.44,148.75 619.28,148.46 619.12,148.17 618.95,147.89 618.78,147.61 618.61,147.34 618.43,147.06 618.25,146.79 618.07,146.53 617.89,146.27 617.70,146.01 617.51,145.75 617.31,145.50 617.12,145.25 616.92,145.01 616.71,144.77 616.51,144.53 616.30,144.30 616.09,144.07 615.88,143.85 615.66,143.62 615.44,143.41 615.22,143.20 615.00,142.99 614.78,142.78 614.55,142.58 614.32,142.39 614.09,142.19 613.85,142.01 613.62,141.82 613.38,141.64 613.14,141.47 612.90,141.30 612.66,141.13 612.41,140.97 612.16,140.82 611.91,140.66 611.66,140.52 611.41,140.37 611.16,140.24 610.90,140.10 610.65,139.97 610.39,139.85 610.13,139.73 609.87,139.62 609.61,139.51 609.35,139.40 609.08,139.30 608.82,139.21 608.55,139.12 608.29,139.03 608.02,138.95 607.75,138.87 607.48,138.80 607.21,138.74 606.94,138.68 606.67,138.62 606.40,138.57 606.13,138.52 605.86,138.48 605.59,138.44 605.31,138.41 605.04,138.39 604.77,138.37 604.49,138.35 604.22,138.34 603.95,138.33 603.67,138.33 603.40,138.33 603.13,138.34 602.86,138.35 602.59,138.37 602.31,138.39 602.04,138.42 601.77,138.45 601.50,138.49 601.23,138.53 600.96,138.58 600.69,138.63 600.43,138.69 600.16,138.75 599.89,138.82 599.63,138.89 599.37,138.97 599.10,139.05 598.84,139.13 598.58,139.22 598.32,139.32 598.06,139.42 597.81,139.52 597.55,139.63 597.30,139.74 597.04,139.86 596.79,139.99 596.54,140.11 596.30,140.24 596.05,140.38 595.80,140.52 595.56,140.66 595.32,140.81 595.08,140.97 594.85,141.12 594.61,141.28 594.38,141.45 594.15,141.62 593.92,141.79 593.69,141.97 593.47,142.15 593.24,142.34 593.02,142.53 592.81,142.72 592.59,142.92 592.38,143.12 592.17,143.33 591.96,143.53 591.76,143.75 591.55,143.96 591.35,144.18 591.16,144.41 590.96,144.63 590.77,144.86 590.58,145.09 590.39,145.33 590.21,145.57 590.03,145.81 589.85,146.06 589.68,146.31 589.51,146.56 589.34,146.81 589.17,147.07 589.01,147.33 588.85,147.60 588.70,147.86 588.54,148.13 588.39,148.40 588.25,148.68 588.11,148.95 587.97,149.23 587.83,149.51 587.70,149.80 587.57,150.08 587.44,150.37 587.32,150.66 587.20,150.95 587.08,151.25 586.97,151.54 586.86,151.84 586.76,152.14 586.66,152.44 586.56,152.74 586.46,153.05 586.37,153.36 586.29,153.66 586.20,153.97 586.12,154.28 586.05,154.59 585.97,154.91 585.90,155.22 585.84,155.54 585.78,155.85 585.72,156.17 585.67,156.49 585.62,156.80 585.57,157.12 585.53,157.44 585.49,157.76 585.45,158.09 585.42,158.41 585.39,158.73 585.37,159.05 585.35,159.37 585.33,159.70 585.32,160.02 585.31,160.34 585.31,160.66 585.31,160.99 585.31,161.31 585.31,161.63 585.32,161.95 585.34,162.27 585.36,162.59 585.38,162.91 585.40,163.23 585.43,163.55 585.46,163.87 585.50,164.19 585.54,164.51 585.58,164.82 585.63,165.14 585.68,165.45 585.73,165.76 585.79,166.08 585.85,166.39 585.92,166.70 585.99,167.00 586.06,167.31 586.14,167.61 586.22,167.92 586.30,168.22 586.38,168.52 586.47,168.82 586.57,169.11 586.66,169.41 586.76,169.70 586.87,169.99 586.97,170.28 587.08,170.57 587.20,170.85 587.31,171.13 587.43,171.41 587.56,171.69 587.68,171.96 587.81,172.24 587.94,172.51 588.08,172.77 588.22,173.04 588.36,173.30 588.50,173.56 588.65,173.82 588.80,174.07 588.95,174.32 589.11,174.57 589.27,174.82 589.43,175.06 589.60,175.30 589.76,175.53 589.93,175.77 590.10,175.99 590.28,176.22 590.46,176.44 590.64,176.66 590.82,176.88 591.00,177.09 591.19,177.30 591.38,177.51 591.57,177.71 591.76,177.91 591.96,178.10 592.16,178.29 592.36,178.48 592.56,178.67 592.77,178.85 592.97,179.02 593.18,179.19 593.39,179.36 593.60,179.53 593.82,179.69 594.03,179.84 594.25,180.00 594.47,180.15 594.69,180.29 594.91,180.43 595.13,180.57 595.36,180.70 595.58,180.83 595.81,180.95 596.04,181.07 596.27,181.19 596.50,181.30 596.74,181.40 596.97,181.51 597.20,181.61 597.44,181.70 597.68,181.79 597.91,181.87 598.15,181.96 598.39,182.03 598.63,182.10 598.87,182.17 599.11,182.24 599.36,182.29 599.60,182.35 599.84,182.40 600.09,182.45 600.33,182.49 600.57,182.52 600.82,182.56 601.06,182.58 601.31,182.61 601.55,182.63 601.80,182.64 602.04,182.65 602.29,182.66 602.53,182.66 602.78,182.66 603.02,182.65 603.27,182.64 603.51,182.62 603.75,182.60 604.00,182.57 604.24,182.54 604.48,182.51 604.72,182.47 604.96,182.43 605.20,182.38 605.44,182.33 605.68,182.28 605.92,182.22 606.16,182.15 606.40,182.08 606.63,182.01 606.87,181.93 607.10,181.85 607.33,181.77 607.56,181.68 607.79,181.58 608.02,181.49 608.25,181.38 608.47,181.28 608.70,181.17 608.92,181.06 609.14,180.94 609.37,180.82 609.58,180.69 609.80,180.56 610.02,180.43 610.23,180.29 610.44,180.15 610.65,180.00 610.86,179.86 611.07,179.70 611.27,179.55 611.48,179.39 611.68,179.23 611.87,179.06 612.07,178.89 612.27,178.72 612.46,178.54 612.65,178.36 612.84,178.17 613.02,177.99 613.21,177.80 613.39,177.60 613.57,177.41 613.74,177.21 613.92,177.01 614.09,176.80 614.26,176.59 614.42,176.38 614.59,176.17 614.75,175.95 614.91,175.73 615.06,175.51 615.21,175.28 615.37,175.05 615.51,174.82 615.66,174.59 615.80,174.35 615.94,174.11 616.07,173.87 616.21,173.63 616.34,173.39 616.47,173.14 616.59,172.89 616.71,172.64 616.83,172.39 616.95,172.13 617.06,171.87 617.17,171.61 617.27,171.35 617.38,171.09 617.48,170.83 617.57,170.56 617.67,170.29 617.76,170.02 617.85,169.75 617.93,169.48 618.01,169.21 618.09,168.93 618.16,168.66 618.23,168.38 618.30,168.10 618.37,167.82 618.43,167.54 618.49,167.26 618.54,166.98 618.59,166.69 618.64,166.41 618.68,166.13 618.73,165.84 618.76,165.56 618.80,165.27 618.83,164.98 618.86,164.70 618.88,164.41 618.90,164.12 618.92,163.84 618.93,163.55 618.95,163.26 618.95,162.97 618.96,162.69 618.96,162.40 618.96,162.11 618.95,161.82 618.94,161.54 618.93,161.25 618.91,160.96 618.89,160.68 618.87,160.39 618.84,160.11 618.82,159.83 618.78,159.54 618.75,159.26 618.71,158.98 618.67,158.70 618.62,158.42 618.57,158.14 618.52,157.86 618.46,157.59 618.41,157.31 618.34,157.04 618.28,156.77 618.21,156.49 618.14,156.22 618.07,155.96 617.99,155.69 617.91,155.42 617.83,155.16 617.74,154.90 617.65,154.64 617.56,154.38 617.46,154.12 617.37,153.87 617.27,153.62 617.16,153.37 617.05,153.12 616.94,152.87 616.83,152.63 616.72,152.38 616.60,152.14 616.48,151.91 616.36,151.67 616.23,151.44 616.10,151.21 615.97,150.98 615.84,150.75 615.70,150.53 615.56,150.31 615.42,150.09 615.28,149.88 615.13,149.67 614.98,149.46 614.83,149.25 614.68,149.05 614.52,148.85 614.36,148.65 614.20,148.45 614.04,148.26 613.88,148.07 613.71,147.89 613.54,147.71 613.37,147.53 613.20,147.35 613.03,147.18 612.85,147.01 612.67,146.84 612.49,146.68 612.31,146.52 612.13,146.36 611.94,146.21 611.76,146.06 611.57,145.92 611.38,145.77 611.19,145.63 610.99,145.50 610.80,145.37 610.60,145.24 610.41,145.12 610.21,145.00 610.01,144.88 609.81,144.77 609.60,144.66 609.40,144.55 609.20,144.45 608.99,144.35 608.79,144.26 608.58,144.16 608.37,144.08 608.16,143.99 607.95,143.92 607.74,143.84 607.53,143.77 607.32,143.70 607.10,143.64 606.89,143.58 606.68,143.52 606.46,143.47 606.25,143.42 606.03,143.38 605.82,143.34 605.60,143.30 605.38,143.27 605.17,143.24 604.95,143.22 604.73,143.20 604.52,143.18 604.30,143.17 604.08,143.16 603.87,143.15 603.65,143.15 603.43,143.16 603.22,143.16 603.00,143.17 602.78,143.19 602.57,143.21 602.35,143.23 602.14,143.26 601.92,143.29 601.71,143.32 601.50,143.36 601.29,143.40 601.07,143.45 600.86,143.50 600.65,143.55 600.44,143.61 600.23,143.67 600.02,143.73 599.82,143.80 599.61,143.87 599.41,143.95 599.20,144.03 599.00,144.11 598.80,144.20 598.60,144.29 598.40,144.38 598.20,144.48 598.00,144.58 597.80,144.69 597.61,144.80 597.42,144.91 597.22,145.02 597.03,145.14 596.85,145.26 596.66,145.39 596.47,145.51 596.29,145.65 596.11,145.78 595.93,145.92 595.75,146.06 595.57,146.20 595.40,146.35 595.22,146.50 595.05,146.66 594.88,146.81 594.71,146.97 594.55,147.13 594.38,147.30 594.22,147.47 594.06,147.64 593.91,147.81 593.75,147.99 593.60,148.17 593.45,148.35 593.30,148.53 593.15,148.72 593.01,148.91 592.87,149.10 592.73,149.30 592.59,149.49 592.45,149.69 592.32,149.89 592.19,150.10 592.07,150.30 591.94,150.51 591.82,150.72 591.70,150.93 591.58,151.15 591.47,151.36 591.35,151.58 591.25,151.80 591.14,152.02 591.03,152.25 590.93,152.47 590.83,152.70 590.74,152.93 590.65,153.16 590.56,153.39 590.47,153.62 590.38,153.85 590.30,154.09 590.22,154.33 590.14,154.57 590.07,154.81 590.00,155.05 589.93,155.29 589.87,155.53 589.81,155.77 589.75,156.02 589.69,156.27 589.64,156.51 589.59,156.76 589.54,157.01 589.49,157.26 589.45,157.51 589.41,157.76 589.38,158.01 589.34,158.26 589.31,158.51 589.29,158.76 589.26,159.01 589.24,159.26 589.22,159.52 589.21,159.77 589.20,160.02 589.19,160.27 589.18,160.53 589.18,160.78 589.18,161.03 589.18,161.28 589.19,161.54 589.20,161.79 589.21,162.04 589.22,162.29 589.24,162.54 589.26,162.79 589.28,163.04 589.31,163.29 589.34,163.54 589.37,163.79 589.40,164.03 589.44,164.28 589.48,164.52 589.52,164.77 589.57,165.01 589.62,165.25 589.67,165.49 589.73,165.73 589.78,165.97 589.84,166.21 589.90,166.45 589.97,166.68 590.04,166.92 590.11,167.15 590.18,167.38 590.26,167.61 590.34,167.84 590.42,168.06 590.50,168.29 590.59,168.51 590.68,168.73 590.77,168.95 590.86,169.17 590.96,169.38 591.06,169.60 591.16,169.81 591.26,170.02 591.37,170.23 591.48,170.43 591.59,170.64 591.70,170.84 591.82,171.04 591.93,171.23 592.05,171.43 592.18,171.62 592.30,171.81 592.43,172.00 592.55,172.18 592.68,172.37 592.82,172.55 592.95,172.72 593.09,172.90 593.23,173.07 593.37,173.24 593.51,173.41 593.65,173.57 593.80,173.73 593.94,173.89 594.09,174.05 594.24,174.20 594.40,174.35 594.55,174.50 594.71,174.64 594.86,174.79 595.02,174.93 595.18,175.06 595.35,175.19 595.51,175.32 595.67,175.45 595.84,175.57 596.01,175.69 596.18,175.81 596.35,175.93 596.52,176.04 596.69,176.14 596.86,176.25 597.04,176.35 597.21,176.45 597.39,176.54 597.57,176.64 597.75,176.72 597.92,176.81 598.10,176.89 598.29,176.97 598.47,177.04 598.65,177.12 598.83,177.18 599.02,177.25 599.20,177.31 599.39,177.37 599.57,177.42 599.76,177.48 599.94,177.52 600.13,177.57 600.32,177.61 600.51,177.65 600.69,177.68 600.88,177.71 601.07,177.74 601.26,177.76 601.45,177.78 601.64,177.80 601.83,177.81 602.01,177.82 602.20,177.83 602.39,177.83 602.58,177.83 602.77,177.83 602.96,177.82 603.15,177.81 603.33,177.80 603.52,177.78 603.71,177.76 603.89,177.74 604.08,177.71 604.27,177.68 604.45,177.65 604.64,177.61 604.82,177.57 605.01,177.53 605.19,177.48 605.37,177.43 605.55,177.37 605.73,177.32 605.91,177.26 606.09,177.19 606.27,177.13 606.45,177.06 606.62,176.98 606.80,176.91 606.97,176.83 607.15,176.75 607.32,176.66 607.49,176.57 607.66,176.48 607.83,176.39 607.99,176.29 608.16,176.19 608.33,176.09 608.49,175.98 608.65,175.87 608.81,175.76 608.97,175.64 609.13,175.53 609.29,175.41 609.44,175.28 609.59,175.16 609.74,175.03 609.89,174.90 610.04,174.76 610.19,174.63 610.33,174.49 610.48,174.35 610.62,174.20 610.76,174.06 610.90,173.91 611.03,173.76 611.17,173.61 611.30,173.45 611.43,173.29 611.56,173.13 611.68,172.97 611.81,172.80 611.93,172.64 612.05,172.47 612.17,172.30 612.28,172.13 612.40,171.95 612.51,171.77 612.62,171.60 612.73,171.42 612.83,171.23 612.94,171.05 613.04,170.86 613.13,170.68 613.23,170.49 613.32,170.30 613.42,170.11 613.51,169.91 613.59,169.72 613.68,169.52 613.76,169.32 613.84,169.12 613.92,168.92 613.99,168.72 614.07,168.52 614.14,168.31 614.20,168.11 614.27,167.90 614.33,167.70 614.39,167.49 614.45,167.28 614.51,167.07 614.56,166.86 614.61,166.65 614.66,166.43 614.70,166.22 614.75,166.01 614.79,165.79 614.82,165.58 614.86,165.36 614.89,165.15 614.92,164.93 614.95,164.71 614.97,164.50 615.00,164.28 615.02,164.06 615.03,163.85 615.05,163.63 615.06,163.41 615.07,163.19 615.08,162.97 615.08,162.76 615.09,162.54 615.09,162.32 615.08,162.10 615.08,161.89 615.07,161.67 615.06,161.45 615.05,161.24 615.03,161.02 615.01,160.81 614.99,160.59 614.97,160.38 614.94,160.17 614.91,159.95 614.88,159.74 614.85,159.53 614.82,159.32 614.78,159.11 614.74,158.90 614.69,158.69 614.65,158.48 614.60,158.28 614.55,158.07 614.50,157.87 614.45,157.67 614.39,157.46 614.33,157.26 614.27,157.07 614.20,156.87 614.14,156.67 614.07,156.48 614.00,156.28 613.93,156.09 613.85,155.90 613.78,155.71 613.70,155.52 613.61,155.33 613.53,155.15 613.45,154.97 613.36,154.79 613.27,154.61 613.18,154.43 613.08,154.25 612.99,154.08 612.89,153.91 612.79,153.74 612.69,153.57 612.59,153.40 612.48,153.24 612.37,153.08 612.27,152.92 612.16,152.76 612.04,152.60 611.93,152.45 611.81,152.30 611.70,152.15 611.58,152.00 611.46,151.86 611.34,151.71 611.21,151.57 611.09,151.43 610.96,151.30 610.83,151.17 610.70,151.04 610.57,150.91 610.44,150.78 610.30,150.66 610.17,150.54 610.03,150.42 609.90,150.31 609.76,150.19 609.62,150.08 609.48,149.98 609.33,149.87 609.19,149.77 609.04,149.67 608.90,149.57 608.75,149.48 608.61,149.39 608.46,149.30 608.31,149.21 608.16,149.13 608.01,149.05 607.85,148.97 607.70,148.90 607.55,148.83 607.39,148.76 607.24,148.69 607.08,148.63 606.93,148.57 606.77,148.51 606.61,148.46 606.46,148.40 606.30,148.36 606.14,148.31 605.98,148.27 605.82,148.23 605.66,148.19 605.50,148.16 605.34,148.13 605.18,148.10 605.02,148.07 604.86,148.05 604.70,148.03 604.54,148.01 604.38,148.00 604.22,147.99 604.06,147.98 603.90,147.98 603.74,147.98 603.58,147.98 603.42,147.98 603.26,147.99 603.10,148.00 602.94,148.01 602.78,148.03 602.62,148.04 602.46,148.07 602.30,148.09 602.14,148.12 601.99,148.15 601.83,148.18 601.67,148.21 601.52,148.25 601.36,148.29 601.21,148.34 601.05,148.38 600.90,148.43 600.75,148.49 600.59,148.54 600.44,148.60 600.29,148.66 600.14,148.72 600.00,148.79 599.85,148.86 599.70,148.93 599.56,149.00 599.41,149.08 599.27,149.15 599.12,149.24 598.98,149.32 598.84,149.40 598.70,149.49 598.56,149.58 598.43,149.68 598.29,149.77 598.16,149.87 598.02,149.97 597.89,150.08 597.76,150.18 597.63,150.29 597.51,150.40 597.38,150.51 597.25,150.62 597.13,150.74 597.01,150.86 596.89,150.98 596.77,151.10 596.65,151.23 596.53,151.35 596.42,151.48 596.31,151.61 596.20,151.74 596.09,151.88 595.98,152.01 595.87,152.15 595.77,152.29 595.67,152.43 595.57,152.58 595.47,152.72 595.37,152.87 595.27,153.02 595.18,153.17 595.09,153.32 595.00,153.47 594.91,153.63 594.82,153.78 594.74,153.94 594.66,154.10 594.58,154.26 594.50,154.42 594.42,154.58 594.35,154.74 594.27,154.91 594.20,155.08 594.14,155.24 594.07,155.41 594.00,155.58 593.94,155.75 593.88,155.92 593.82,156.10 593.77,156.27 593.71,156.44 593.66,156.62 593.61,156.79 593.56,156.97 593.52,157.15 593.47,157.32 593.43,157.50 593.39,157.68 593.35,157.86 593.32,158.04 593.29,158.22 593.26,158.40 593.23,158.58 593.20,158.77 593.18,158.95 593.15,159.13 593.13,159.31 593.12,159.49 593.10,159.68 593.09,159.86 593.07,160.04 593.07,160.23 593.06,160.41 593.05,160.59 593.05,160.77 593.05,160.96 593.05,161.14 593.05,161.32 593.06,161.50 593.07,161.69 593.08,161.87 593.09,162.05 593.10,162.23 593.12,162.41 593.14,162.59 593.16,162.77 593.18,162.95 593.20,163.12 593.23,163.30 593.26,163.48 593.29,163.65 593.32,163.83 593.36,164.00 593.39,164.18 593.43,164.35 593.47,164.52 593.52,164.70 593.56,164.87 593.61,165.03 593.66,165.20 593.71,165.37 593.76,165.54 593.81,165.70 593.87,165.86 593.93,166.03 593.99,166.19 594.05,166.35 594.11,166.51 594.18,166.67 594.24,166.82 594.31,166.98 594.38,167.13 594.46,167.28 594.53,167.43 594.61,167.58 594.68,167.73 594.76,167.88 594.84,168.02 594.92,168.16 595.01,168.30 595.09,168.44 595.18,168.58 595.27,168.72 595.36,168.85 595.45,168.98 595.54,169.12 595.64,169.24 595.73,169.37 595.83,169.50 595.93,169.62 596.03,169.74 596.13,169.86 596.23,169.98 596.33,170.09 596.44,170.21 596.55,170.32 596.65,170.43 596.76,170.54 596.87,170.64 596.98,170.74 597.09,170.85 597.21,170.94 597.32,171.04 597.44,171.14 597.55,171.23 597.67,171.32 597.79,171.41 597.90,171.49 598.02,171.58 598.14,171.66 598.27,171.74 598.39,171.81 598.51,171.89 598.63,171.96 598.76,172.03 598.88,172.10 599.01,172.16 599.14,172.23 599.26,172.29 599.39,172.34 599.52,172.40 599.65,172.45 599.78,172.50 599.91,172.55 600.04,172.60 600.17,172.64 600.30,172.68 600.43,172.72 600.56,172.76 600.69,172.79 600.82,172.82 600.95,172.85 601.09,172.88 601.22,172.90 601.35,172.93 601.48,172.95 601.62,172.96 601.75,172.98 601.88,172.99 602.02,173.00 602.15,173.01 602.28,173.01 602.41,173.01 602.55,173.01 602.68,173.01 602.81,173.01 602.94,173.00 603.08,172.99 603.21,172.98 603.34,172.96 603.47,172.95 603.60,172.93 603.73,172.91 603.86,172.88 603.99,172.86 604.12,172.83 604.25,172.80 604.38,172.77 604.50,172.73" fill="none" stroke="#555" stroke-width="0.9"/>
<line x1="624.3000000000001" y1="161.7" x2="625.9" y2="161.7" stroke="#666" stroke-width="0.9"/>
<circle cx="602.8000000000001" cy="161.7" r="1.2" fill="none" stroke="#777" stroke-width="0.7"/>
</svg>
<div class="lb" style="left:122.51px;top:159.51px;font-size:11.968px;transform:scaleX(0.7746)">M10</div>
<div class="lb" style="left:62.7px;top:194.7px;font-size:11.101px;transform:scaleX(0.8815)">T25</div>
<div class="lb" style="left:246.62px;top:219.69px;font-size:14.647px;transform:scaleX(0.8945)">F</div>
<div class="lb" style="left:427.71px;top:219.5px;font-size:15.842px;transform:scaleX(0.8021)">D</div>
<div class="lb" style="left:336.54px;top:255.64px;font-size:15.605px;transform:scaleX(0.7762)">L</div>
<div class="lb" style="left:523.74px;top:152.6px;font-size:15.843px;transform:scaleX(0.7446)">d1</div>
<div class="lb" style="left:553.64px;top:151.6px;font-size:14.289px;transform:scaleX(0.8484)">d</div>
<div class="tw" style="left:442.63px;top:69.65px;font-size:11.952px;transform:scaleX(0.981)">Tread for wood</div>

<div class="g" style="left:17px;top:281px;width:1px;height:4px"></div>
<div class="g" style="left:17px;top:436px;width:1px;height:4px"></div>
<div class="g" style="left:120px;top:281px;width:1px;height:4px"></div>
<div class="g" style="left:120px;top:436px;width:1px;height:4px"></div>
<div class="g" style="left:208px;top:281px;width:1px;height:4px"></div>
<div class="g" style="left:208px;top:436px;width:1px;height:4px"></div>
<div class="g" style="left:296px;top:281px;width:1px;height:4px"></div>
<div class="g" style="left:296px;top:436px;width:1px;height:4px"></div>
<div class="g" style="left:384px;top:281px;width:1px;height:4px"></div>
<div class="g" style="left:384px;top:436px;width:1px;height:4px"></div>
<div class="g" style="left:472px;top:281px;width:1px;height:4px"></div>
<div class="g" style="left:472px;top:436px;width:1px;height:4px"></div>
<div class="g" style="left:560px;top:281px;width:1px;height:4px"></div>
<div class="g" style="left:560px;top:436px;width:1px;height:4px"></div>
<div class="g" style="left:622px;top:281px;width:1px;height:4px"></div>
<div class="g" style="left:622px;top:436px;width:1px;height:4px"></div>
<div class="g" style="left:12px;top:285px;width:5px;height:1px"></div>
<div class="g" style="left:623px;top:285px;width:5px;height:1px"></div>
<div class="g" style="left:12px;top:335px;width:5px;height:1px"></div>
<div class="g" style="left:623px;top:335px;width:5px;height:1px"></div>
<div class="g" style="left:12px;top:355px;width:5px;height:1px"></div>
<div class="g" style="left:623px;top:355px;width:5px;height:1px"></div>
<div class="g" style="left:12px;top:375px;width:5px;height:1px"></div>
<div class="g" style="left:623px;top:375px;width:5px;height:1px"></div>
<div class="g" style="left:12px;top:395px;width:5px;height:1px"></div>
<div class="g" style="left:623px;top:395px;width:5px;height:1px"></div>
<div class="g" style="left:12px;top:415px;width:5px;height:1px"></div>
<div class="g" style="left:623px;top:415px;width:5px;height:1px"></div>
<div class="g" style="left:12px;top:435px;width:5px;height:1px"></div>
<div class="g" style="left:623px;top:435px;width:5px;height:1px"></div>
<div class="g" style="left:12px;top:310px;width:5px;height:1px"></div>
<div class="g" style="left:623px;top:310px;width:5px;height:1px"></div>
<div class="g" style="left:18px;top:310px;width:102px;height:1px;background:#d4d4d4"></div>
<div class="b" style="left:17px;top:285px;width:1px;height:151px"></div>
<div class="b" style="left:120px;top:285px;width:1px;height:151px"></div>
<div class="b" style="left:208px;top:285px;width:1px;height:151px"></div>
<div class="b" style="left:296px;top:285px;width:1px;height:151px"></div>
<div class="b" style="left:384px;top:285px;width:1px;height:151px"></div>
<div class="b" style="left:472px;top:285px;width:1px;height:151px"></div>
<div class="b" style="left:560px;top:285px;width:1px;height:151px"></div>
<div class="b" style="left:622px;top:285px;width:1px;height:151px"></div>
<div class="b" style="left:17px;top:285px;width:606px;height:1px"></div>
<div class="b" style="left:17px;top:335px;width:606px;height:1px"></div>
<div class="b" style="left:17px;top:355px;width:606px;height:1px"></div>
<div class="b" style="left:17px;top:375px;width:606px;height:1px"></div>
<div class="b" style="left:17px;top:395px;width:606px;height:1px"></div>
<div class="b" style="left:17px;top:415px;width:606px;height:1px"></div>
<div class="b" style="left:17px;top:435px;width:606px;height:1px"></div>
<div class="c" style="left:18px;top:337px;width:102px">M10<span class="w"><svg width="16" height="12"><path d="M3.6,1.4 L12.4,9.8 M12.4,1.4 L3.6,9.8" stroke="#000" stroke-width="1" fill="none"/></svg></span>60</div>
<div class="c" style="left:121px;top:337px;width:87px">30<span class="w"><svg width="16" height="12"><path d="M3.5,4.6 H12.5 M8,0.3 V8.9 M3.5,10.6 H12.5" stroke="#000" stroke-width="1" fill="none"/></svg></span>1.5</div>
<div class="c" style="left:209px;top:337px;width:87px">30<span class="w"><svg width="16" height="12"><path d="M3.5,4.6 H12.5 M8,0.3 V8.9 M3.5,10.6 H12.5" stroke="#000" stroke-width="1" fill="none"/></svg></span>1.5</div>
<div class="c" style="left:297px;top:337px;width:87px">60<span class="w"><svg width="16" height="12"><path d="M3.5,4.6 H12.5 M8,0.3 V8.9 M3.5,10.6 H12.5" stroke="#000" stroke-width="1" fill="none"/></svg></span>1.5</div>
<div class="c" style="left:385px;top:337px;width:87px">10.3<span class="w"><svg width="16" height="12"><path d="M3.5,4.6 H12.5 M8,0.3 V8.9 M3.5,10.6 H12.5" stroke="#000" stroke-width="1" fill="none"/></svg></span>2.0</div>
<div class="c" style="left:473px;top:337px;width:87px">8.3<span class="w"><svg width="16" height="12"><path d="M3.5,4.6 H12.5 M8,0.3 V8.9 M3.5,10.6 H12.5" stroke="#000" stroke-width="1" fill="none"/></svg></span>1.5</div>
<div class="c" style="left:561px;top:337px;width:61px">T25</div>
<div class="c" style="left:18px;top:357px;width:102px">M10<span class="w"><svg width="16" height="12"><path d="M3.6,1.4 L12.4,9.8 M12.4,1.4 L3.6,9.8" stroke="#000" stroke-width="1" fill="none"/></svg></span>70</div>
<div class="c" style="left:121px;top:357px;width:87px">35<span class="w"><svg width="16" height="12"><path d="M3.5,4.6 H12.5 M8,0.3 V8.9 M3.5,10.6 H12.5" stroke="#000" stroke-width="1" fill="none"/></svg></span>1.5</div>
<div class="c" style="left:209px;top:357px;width:87px">35<span class="w"><svg width="16" height="12"><path d="M3.5,4.6 H12.5 M8,0.3 V8.9 M3.5,10.6 H12.5" stroke="#000" stroke-width="1" fill="none"/></svg></span>1.5</div>
<div class="c" style="left:297px;top:357px;width:87px">70<span class="w"><svg width="16" height="12"><path d="M3.5,4.6 H12.5 M8,0.3 V8.9 M3.5,10.6 H12.5" stroke="#000" stroke-width="1" fill="none"/></svg></span>1.5</div>
<div class="c" style="left:385px;top:357px;width:87px">10.3<span class="w"><svg width="16" height="12"><path d="M3.5,4.6 H12.5 M8,0.3 V8.9 M3.5,10.6 H12.5" stroke="#000" stroke-width="1" fill="none"/></svg></span>2.0</div>
<div class="c" style="left:473px;top:357px;width:87px">8.3<span class="w"><svg width="16" height="12"><path d="M3.5,4.6 H12.5 M8,0.3 V8.9 M3.5,10.6 H12.5" stroke="#000" stroke-width="1" fill="none"/></svg></span>1.5</div>
<div class="c" style="left:561px;top:357px;width:61px">T25</div>
<div class="c" style="left:18px;top:377px;width:102px">M10<span class="w"><svg width="16" height="12"><path d="M3.6,1.4 L12.4,9.8 M12.4,1.4 L3.6,9.8" stroke="#000" stroke-width="1" fill="none"/></svg></span>80</div>
<div class="c" style="left:121px;top:377px;width:87px">40<span class="w"><svg width="16" height="12"><path d="M3.5,4.6 H12.5 M8,0.3 V8.9 M3.5,10.6 H12.5" stroke="#000" stroke-width="1" fill="none"/></svg></span>1.5</div>
<div class="c" style="left:209px;top:377px;width:87px">40<span class="w"><svg width="16" height="12"><path d="M3.5,4.6 H12.5 M8,0.3 V8.9 M3.5,10.6 H12.5" stroke="#000" stroke-width="1" fill="none"/></svg></span>1.5</div>
<div class="c" style="left:297px;top:377px;width:87px">80<span class="w"><svg width="16" height="12"><path d="M3.5,4.6 H12.5 M8,0.3 V8.9 M3.5,10.6 H12.5" stroke="#000" stroke-width="1" fill="none"/></svg></span>1.5</div>
<div class="c" style="left:385px;top:377px;width:87px">10.3<span class="w"><svg width="16" height="12"><path d="M3.5,4.6 H12.5 M8,0.3 V8.9 M3.5,10.6 H12.5" stroke="#000" stroke-width="1" fill="none"/></svg></span>2.0</div>
<div class="c" style="left:473px;top:377px;width:87px">8.3<span class="w"><svg width="16" height="12"><path d="M3.5,4.6 H12.5 M8,0.3 V8.9 M3.5,10.6 H12.5" stroke="#000" stroke-width="1" fill="none"/></svg></span>1.5</div>
<div class="c" style="left:561px;top:377px;width:61px">T25</div>
<div class="c" style="left:18px;top:397px;width:102px">M10<span style="color:#bbb;margin:0 -1.2px 0 0">.</span>X 90</div>
<div class="c" style="left:121px;top:397px;width:87px">45&#177;1.5</div>
<div class="c" style="left:209px;top:397px;width:87px">45&#177;1.5</div>
<div class="c" style="left:297px;top:397px;width:87px">90&#177;1.5</div>
<div class="c" style="left:385px;top:397px;width:87px">10.3&#177;2.0</div>
<div class="c" style="left:473px;top:397px;width:87px">8.3&#177;1.5</div>
<div class="c" style="left:561px;top:397px;width:61px">T25</div>
<div class="c" style="left:18px;top:417px;width:102px">M10<span class="w"><svg width="16" height="12"><path d="M3.6,1.4 L12.4,9.8 M12.4,1.4 L3.6,9.8" stroke="#000" stroke-width="1" fill="none"/></svg></span>100</div>
<div class="c" style="left:121px;top:417px;width:87px">50<span class="w"><svg width="16" height="12"><path d="M3.5,4.6 H12.5 M8,0.3 V8.9 M3.5,10.6 H12.5" stroke="#000" stroke-width="1" fill="none"/></svg></span>1.5</div>
<div class="c" style="left:209px;top:417px;width:87px">50<span class="w"><svg width="16" height="12"><path d="M3.5,4.6 H12.5 M8,0.3 V8.9 M3.5,10.6 H12.5" stroke="#000" stroke-width="1" fill="none"/></svg></span>1.5</div>
<div class="c" style="left:297px;top:417px;width:87px">100<span class="w"><svg width="16" height="12"><path d="M3.5,4.6 H12.5 M8,0.3 V8.9 M3.5,10.6 H12.5" stroke="#000" stroke-width="1" fill="none"/></svg></span>1.75</div>
<div class="c" style="left:385px;top:417px;width:87px">10.3<span class="w"><svg width="16" height="12"><path d="M3.5,4.6 H12.5 M8,0.3 V8.9 M3.5,10.6 H12.5" stroke="#000" stroke-width="1" fill="none"/></svg></span>2.0</div>
<div class="c" style="left:473px;top:417px;width:87px">8.3<span class="w"><svg width="16" height="12"><path d="M3.5,4.6 H12.5 M8,0.3 V8.9 M3.5,10.6 H12.5" stroke="#000" stroke-width="1" fill="none"/></svg></span>1.5</div>
<div class="c" style="left:561px;top:417px;width:61px">T25</div>
<div class="h" style="left:121px;top:302px;width:87px">D</div>
<div class="h" style="left:209px;top:302px;width:87px">F</div>
<div class="h" style="left:297px;top:302px;width:87px">L</div>
<div class="h" style="left:385px;top:302px;width:87px">d</div>
<div class="h" style="left:473px;top:302px;width:87px">d1</div>
<div class="h" style="left:561px;top:302px;width:61px">Torx</div>
<div class="h" style="left:23.8px;top:290px;text-align:left;letter-spacing:0.25px">Dimensions</div>
<div class="h" style="left:21px;top:314.5px;text-align:left">Size</div>
<svg class="abs" width="664" height="514" style="left:0;top:0"><line x1="17.5" y1="285.5" x2="120" y2="335.5" stroke="#000" stroke-width="1.1"/></svg>
</body></html>
